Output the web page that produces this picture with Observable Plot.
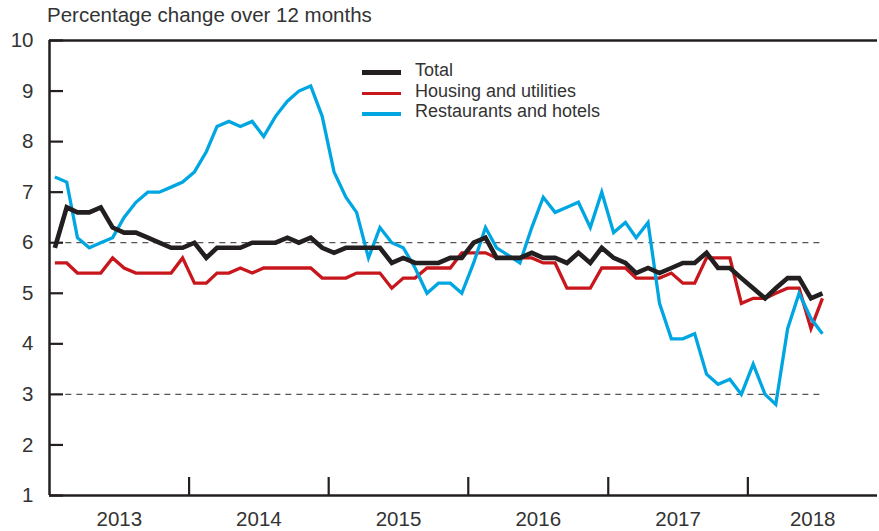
<!DOCTYPE html>
<html><head><meta charset="utf-8">
<script src="https://cdn.jsdelivr.net/npm/d3@7"></script>
<script src="https://cdn.jsdelivr.net/npm/@observablehq/plot@0.6"></script>
<style>
body{margin:0;background:#fff;font-family:"Liberation Sans",Arial,sans-serif;}
#wrap{position:relative;width:879px;height:531px;overflow:hidden;}
#title{position:absolute;left:47px;top:0;height:30px;line-height:30px;font-size:20.5px;color:#333;white-space:nowrap;z-index:2;}
#chart{position:absolute;left:0;top:18px;}
#legend{position:absolute;left:362px;top:60.5px;font-size:18px;color:#333;z-index:2;}
.item{display:flex;align-items:center;height:20.5px;white-space:nowrap;}
.sw{width:39px;margin-right:14px;position:relative;top:2px;}
</style></head><body>
<div id="wrap">
  <div id="chart"></div>
  <div id="title">Percentage change over 12 months</div>
  <div id="legend"></div>
</div>
<script>
// ---- data (monthly, Jan 2013 – Jul 2018) ----
const startYear = 2013;
const years = [2013, 2014, 2015, 2016, 2017, 2018];
const yTicks = [1, 2, 3, 4, 5, 6, 7, 8, 9, 10];
const refLines = [3, 6];
const seriesNames = ["Total", "Housing and utilities", "Restaurants and hotels"];
const seriesColors = ["#231f20", "#c8161d", "#00a6e2"];

const total = [5.9, 6.7, 6.6, 6.6, 6.7, 6.3, 6.2, 6.2, 6.1, 6.0, 5.9, 5.9,
  6.0, 5.7, 5.9, 5.9, 5.9, 6.0, 6.0, 6.0, 6.1, 6.0, 6.1, 5.9,
  5.8, 5.9, 5.9, 5.9, 5.9, 5.6, 5.7, 5.6, 5.6, 5.6, 5.7, 5.7,
  6.0, 6.1, 5.7, 5.7, 5.7, 5.8, 5.7, 5.7, 5.6, 5.8, 5.6, 5.9,
  5.7, 5.6, 5.4, 5.5, 5.4, 5.5, 5.6, 5.6, 5.8, 5.5, 5.5, 5.3,
  5.1, 4.9, 5.1, 5.3, 5.3, 4.9, 5.0];

const housing = [5.6, 5.6, 5.4, 5.4, 5.4, 5.7, 5.5, 5.4, 5.4, 5.4, 5.4, 5.7,
  5.2, 5.2, 5.4, 5.4, 5.5, 5.4, 5.5, 5.5, 5.5, 5.5, 5.5, 5.3,
  5.3, 5.3, 5.4, 5.4, 5.4, 5.1, 5.3, 5.3, 5.5, 5.5, 5.5, 5.8,
  5.8, 5.8, 5.7, 5.7, 5.7, 5.7, 5.6, 5.6, 5.1, 5.1, 5.1, 5.5,
  5.5, 5.5, 5.3, 5.3, 5.3, 5.4, 5.2, 5.2, 5.7, 5.7, 5.7, 4.8,
  4.9, 4.9, 5.0, 5.1, 5.1, 4.3, 4.9];

const restaurants = [7.3, 7.2, 6.1, 5.9, 6.0, 6.1, 6.5, 6.8, 7.0, 7.0, 7.1, 7.2,
  7.4, 7.8, 8.3, 8.4, 8.3, 8.4, 8.1, 8.5, 8.8, 9.0, 9.1, 8.5,
  7.4, 6.9, 6.6, 5.7, 6.3, 6.0, 5.9, 5.5, 5.0, 5.2, 5.2, 5.0,
  5.6, 6.3, 5.9, 5.75, 5.6, 6.3, 6.9, 6.6, 6.7, 6.8, 6.3, 7.0,
  6.2, 6.4, 6.1, 6.4, 4.8, 4.1, 4.1, 4.2, 3.4, 3.2, 3.3, 3.0,
  3.6, 3.0, 2.8, 4.3, 5.0, 4.5, 4.2];

// ---- build ----
const dates = total.map((_, i) => new Date(Date.UTC(startYear, i, 15)));
const xStart = new Date(Date.UTC(startYear, 0, 1));
const xEnd = new Date(Date.UTC(2018, 11, 6));
const yearBounds = years.slice(1).map(y => new Date(Date.UTC(y, 0, 1)));
const yearMids = years.map(y => {
  const a = Math.max(+new Date(Date.UTC(y, 0, 1)), +xStart);
  const b = Math.min(+new Date(Date.UTC(y + 1, 0, 1)), +xEnd);
  return new Date((a + b) / 2);
});
const seriesData = [total, housing, restaurants];
const widths = [4.6, 3.3, 3.3];
const ink = "#231f20";

const lineMark = (k) => Plot.lineY(seriesData[k], {
  x: (d, i) => dates[i], y: d => d,
  stroke: seriesColors[k], strokeWidth: widths[k],
  strokeLinejoin: "miter", strokeLinecap: "butt", strokeMiterlimit: 6
});

const chart = Plot.plot({
  width: 879, height: 513,
  marginLeft: 49, marginRight: 2, marginTop: 22, marginBottom: 36,
  x: {type: "utc", domain: [xStart, xEnd]},
  y: {domain: [1, 10], label: null},
  style: {fontFamily: "'Liberation Sans', Arial, sans-serif", fontSize: "20.5px", color: "#333", background: "transparent"},
  marks: [
    Plot.ruleY(refLines, {x1: () => dates[0], x2: () => dates[dates.length - 1], stroke: "#555", strokeWidth: 1.3, strokeDasharray: "6,5"}),
    lineMark(1),
    lineMark(2),
    lineMark(0),
    Plot.ruleY([10], {stroke: ink, strokeWidth: 2.5}),
    Plot.ruleY([1], {stroke: ink, strokeWidth: 2.5}),
    Plot.ruleX([xStart], {stroke: ink, strokeWidth: 2.5}),
    Plot.axisY(yTicks, {tickSize: -14, tickFormat: () => "", stroke: ink, strokeWidth: 2.2, label: null}),
    Plot.axisY(yTicks, {tickSize: 0, tickPadding: 16, tickFormat: d3.format("d"), label: null, fill: "#333"}),
    Plot.axisX(yearBounds, {tickSize: -18, tickFormat: () => "", stroke: ink, strokeWidth: 2.2, label: null}),
    Plot.axisX(yearMids, {tickSize: 0, tickPadding: 16, tickFormat: d3.utcFormat("%Y"), label: null, fill: "#333"})
  ]
});
document.getElementById("chart").appendChild(chart);

// legend
const legend = document.getElementById("legend");
seriesNames.forEach((name, k) => {
  const item = document.createElement("div");
  item.className = "item";
  const sw = document.createElement("div");
  sw.className = "sw";
  sw.style.height = (k === 0 ? 5 : 3.5) + "px";
  sw.style.background = seriesColors[k];
  const t = document.createElement("span");
  t.textContent = name;
  item.appendChild(sw); item.appendChild(t);
  legend.appendChild(item);
});
</script>
</body></html>
